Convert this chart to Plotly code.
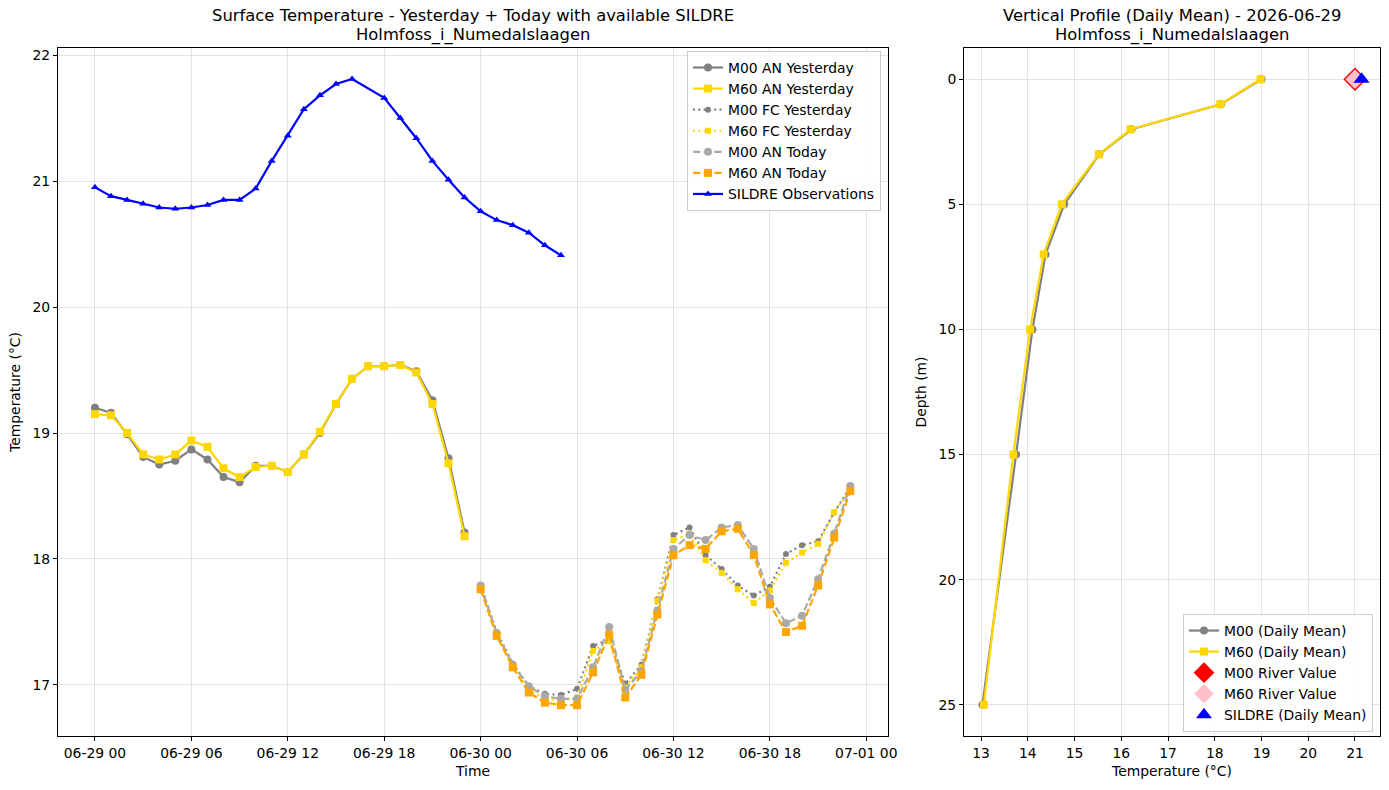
import pandas as pd
import plotly.graph_objects as go

# ---------------- data ----------------
start = pd.Timestamp("2026-06-29 00:00")
yest_hours = list(range(0, 24))
today_hours = list(range(24, 48))
sildre_hours = list(range(0, 17)) + list(range(18, 30))

sildre_vals = [20.95, 20.88, 20.85, 20.82, 20.79, 20.78, 20.79, 20.81, 20.85, 20.85,
               20.94, 21.16, 21.36, 21.57, 21.68, 21.77, 21.81,
               21.66, 21.50, 21.34, 21.16, 21.01, 20.87, 20.76, 20.69, 20.65, 20.59, 20.49, 20.41]

m00_an_yest = [19.20, 19.16, 18.99, 18.81, 18.75, 18.78, 18.87, 18.79, 18.65, 18.61, 18.74, 18.74,
               18.69, 18.83, 19.00, 19.23, 19.43, 19.53, 19.53, 19.54, 19.49, 19.26, 18.80, 18.21]
m60_an_yest = [19.15, 19.14, 19.00, 18.83, 18.79, 18.83, 18.94, 18.89, 18.72, 18.65, 18.73, 18.74,
               18.69, 18.83, 19.01, 19.23, 19.43, 19.53, 19.53, 19.54, 19.48, 19.23, 18.76, 18.18]

m00_fc_yest = [17.79, 17.42, 17.17, 16.99, 16.93, 16.92, 16.97, 17.31, 17.36, 17.01, 17.16, 17.68,
               18.19, 18.25, 18.03, 17.92, 17.79, 17.71, 17.78, 18.04, 18.11, 18.14, 18.37, 18.57]
m60_fc_yest = [17.76, 17.40, 17.15, 16.96, 16.89, 16.88, 16.90, 17.27, 17.35, 16.98, 17.14, 17.67,
               18.15, 18.20, 17.99, 17.89, 17.76, 17.65, 17.75, 17.97, 18.05, 18.12, 18.37, 18.55]

m00_an_today = [17.79, 17.41, 17.16, 16.99, 16.91, 16.89, 16.89, 17.14, 17.46, 16.96, 17.11, 17.59,
                18.08, 18.19, 18.15, 18.25, 18.27, 18.08, 17.69, 17.49, 17.55, 17.84, 18.20, 18.58]
m60_an_today = [17.76, 17.39, 17.14, 16.94, 16.86, 16.84, 16.84, 17.10, 17.40, 16.90, 17.08, 17.56,
                18.03, 18.11, 18.08, 18.22, 18.24, 18.03, 17.64, 17.42, 17.47, 17.79, 18.17, 18.54]

depths = [0, 1, 2, 3, 5, 7, 10, 15, 25]
m00_profile = [19.00, 18.13, 16.22, 15.53, 14.78, 14.38, 14.10, 13.75, 13.03]
m60_profile = [18.98, 18.12, 16.20, 15.52, 14.73, 14.34, 14.05, 13.69, 13.06]
m00_river = [21.00]
m60_river = [21.00]
sildre_mean = [21.14]
surface_depth = [0]

station = "Holmfoss_i_Numedalslaagen"
profile_date = "2026-06-29"
left_title = "Surface Temperature - Yesterday + Today with available SILDRE"
right_title = "Vertical Profile (Daily Mean) - " + profile_date


def t(hours):
    return [start + pd.Timedelta(hours=h) for h in hours]


FONT = "DejaVu Sans"
FS = 13.9
fig = go.Figure()

# left panel
fig.add_trace(go.Scatter(x=t(yest_hours), y=m00_an_yest, mode="lines+markers", name="M00 AN Yesterday",
                         line=dict(color="#808080", width=2.2), marker=dict(symbol="circle", size=8),
                         xaxis="x", yaxis="y"))
fig.add_trace(go.Scatter(x=t(yest_hours), y=m60_an_yest, mode="lines+markers", name="M60 AN Yesterday",
                         line=dict(color="#ffd700", width=2.2), marker=dict(symbol="square", size=8),
                         xaxis="x", yaxis="y"))
fig.add_trace(go.Scatter(x=t(today_hours), y=m00_fc_yest, mode="lines+markers", name="M00 FC Yesterday",
                         line=dict(color="#808080", width=2.2, dash="2px,3.3px"),
                         marker=dict(symbol="circle", size=6), xaxis="x", yaxis="y"))
fig.add_trace(go.Scatter(x=t(today_hours), y=m60_fc_yest, mode="lines+markers", name="M60 FC Yesterday",
                         line=dict(color="#ffd700", width=2.2, dash="2px,3.3px"),
                         marker=dict(symbol="square", size=6), xaxis="x", yaxis="y"))
fig.add_trace(go.Scatter(x=t(today_hours), y=m00_an_today, mode="lines+markers", name="M00 AN Today",
                         line=dict(color="#a9a9a9", width=2.2, dash="7.4px,3.2px"),
                         marker=dict(symbol="circle", size=8), xaxis="x", yaxis="y"))
fig.add_trace(go.Scatter(x=t(today_hours), y=m60_an_today, mode="lines+markers", name="M60 AN Today",
                         line=dict(color="#ffa500", width=2.2, dash="7.4px,3.2px"),
                         marker=dict(symbol="square", size=8), xaxis="x", yaxis="y"))
fig.add_trace(go.Scatter(x=t(sildre_hours), y=sildre_vals, mode="lines+markers", name="SILDRE Observations",
                         line=dict(color="#0000ff", width=2.2), marker=dict(symbol="triangle-up", size=7),
                         xaxis="x", yaxis="y"))

# right panel
fig.add_trace(go.Scatter(x=m00_profile, y=depths, mode="lines+markers", name="M00 (Daily Mean)",
                         line=dict(color="#808080", width=2.2), marker=dict(symbol="circle", size=8),
                         xaxis="x2", yaxis="y2", legend="legend2"))
fig.add_trace(go.Scatter(x=m60_profile, y=depths, mode="lines+markers", name="M60 (Daily Mean)",
                         line=dict(color="#ffd700", width=2.2), marker=dict(symbol="square", size=8),
                         xaxis="x2", yaxis="y2", legend="legend2"))
fig.add_trace(go.Scatter(x=m00_river, y=surface_depth, mode="markers", name="M00 River Value",
                         marker=dict(symbol="diamond", size=18, color="#ff0000"),
                         xaxis="x2", yaxis="y2", legend="legend2"))
fig.add_trace(go.Scatter(x=m60_river, y=surface_depth, mode="markers", name="M60 River Value",
                         marker=dict(symbol="diamond", size=15, color="#ffc0cb"),
                         xaxis="x2", yaxis="y2", legend="legend2"))
fig.add_trace(go.Scatter(x=sildre_mean, y=surface_depth, mode="markers", name="SILDRE (Daily Mean)",
                         marker=dict(symbol="triangle-up", size=14, color="#0000ff"),
                         xaxis="x2", yaxis="y2", legend="legend2"))

W, H = 1389, 790
L1, R1 = 58 / W, 888 / W
L2, R2 = 964 / W, 1380 / W
B, T = 1 - 736 / H, 1 - 48 / H

axis_common = dict(showline=True, mirror=True, linecolor="black", linewidth=1,
                   ticks="outside", ticklen=4, tickcolor="black", tickwidth=1,
                   showgrid=True, gridcolor="rgba(176,176,176,0.35)", gridwidth=1,
                   zeroline=False, automargin=False,
                   tickfont=dict(family=FONT, size=FS, color="black"))


def title_ann(text, xc, ypx):
    return dict(text=text, x=xc, y=1 - ypx / H, xref="paper", yref="paper",
                xanchor="center", yanchor="middle", showarrow=False, borderpad=0,
                font=dict(family=FONT, size=16.4, color="black"))


fig.update_layout(
    width=W, height=H, margin=dict(l=0, r=0, t=0, b=0),
    paper_bgcolor="white", plot_bgcolor="white",
    font=dict(family=FONT, size=FS, color="black"),
    xaxis=dict(domain=[L1, R1], anchor="y", type="date",
               range=[start - pd.Timedelta(minutes=138), start + pd.Timedelta(minutes=49 * 60 + 21)],
               dtick=6 * 3600 * 1000, tick0=start, tickformat="%m-%d %H",
               title=dict(text="Time", standoff=6, font=dict(family=FONT, size=FS)), **axis_common),
    yaxis=dict(domain=[B, T], anchor="x", range=[16.595, 22.056], dtick=1,
               title=dict(text="Temperature (°C)", standoff=8, font=dict(family=FONT, size=FS)),
               **axis_common),
    xaxis2=dict(domain=[L2, R2], anchor="y2", range=[12.636, 21.535], dtick=1,
                title=dict(text="Temperature (°C)", standoff=6, font=dict(family=FONT, size=FS)),
                **axis_common),
    yaxis2=dict(domain=[B, T], anchor="x2", range=[26.25, -1.25], dtick=5,
                title=dict(text="Depth (m)", standoff=8, font=dict(family=FONT, size=FS)),
                **axis_common),
    legend=dict(x=881 / W, y=1 - 51 / H, xanchor="right", yanchor="top",
                bgcolor="rgba(255,255,255,0.8)", bordercolor="#cccccc", borderwidth=1,
                font=dict(family=FONT, size=FS), itemwidth=30, tracegroupgap=0),
    legend2=dict(x=1373 / W, y=1 - 732 / H, xanchor="right", yanchor="bottom",
                 bgcolor="rgba(255,255,255,0.8)", bordercolor="#cccccc", borderwidth=1,
                 font=dict(family=FONT, size=FS), itemwidth=30, tracegroupgap=0),
    showlegend=True,
    annotations=[
        title_ann(left_title, (L1 + R1) / 2, 16),
        title_ann(station, (L1 + R1) / 2, 35),
        title_ann(right_title, (L2 + R2) / 2, 16),
        title_ann(station, (L2 + R2) / 2, 35),
    ],
)

fig.write_html("out.html")
